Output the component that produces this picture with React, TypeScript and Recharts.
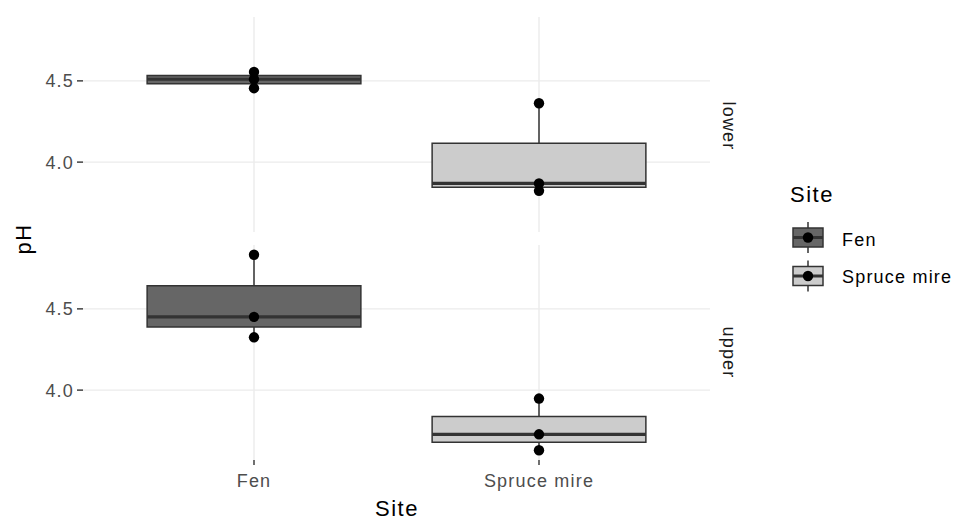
import React from 'react';
import { ComposedChart, XAxis, YAxis, CartesianGrid, ReferenceArea, ReferenceLine, Scatter } from 'recharts';

// pH readings per site, split by depth facet
const sites = ['Fen', 'Spruce mire'];
const depths = ['lower', 'upper'];
const fenLower = [4.555, 4.51, 4.455];
const spruceLower = [4.362, 3.869, 3.823];
const fenUpper = [4.833, 4.451, 4.325];
const spruceUpper = [3.948, 3.728, 3.63];
const yTicks = [4.0, 4.5];
const xTicks = [1, 2];
const siteFills = ['#666666', '#CCCCCC'];

const FONT = '"Liberation Sans", Arial, sans-serif';
const LINE = '#333333';

const quantile = (vals: number[], p: number) => {
  const s = [...vals].sort((a, b) => a - b);
  const h = (s.length - 1) * p;
  const lo = Math.floor(h);
  const hi = Math.ceil(h);
  return s[lo] + (h - lo) * (s[hi] - s[lo]);
};

const boxStats = (vals: number[]) => ({
  min: Math.min(...vals),
  q1: quantile(vals, 0.25),
  med: quantile(vals, 0.5),
  q3: quantile(vals, 0.75),
  max: Math.max(...vals),
});

const allVals = [...fenLower, ...spruceLower, ...fenUpper, ...spruceUpper];
const yMin = Math.min(...allVals);
const yMax = Math.max(...allVals);
const pad = (yMax - yMin) * 0.05;
const yDomain = [yMin - pad, yMax + pad];

const Dot = (props: any) => <circle cx={props.cx} cy={props.cy} r={5.2} fill="#000" />;

const tickStyle = { fill: '#4D4D4D', fontSize: 18, fontFamily: FONT, letterSpacing: 1.2 };

interface PanelProps {
  groups: number[][];
  showX: boolean;
  height: number;
  margin: { top: number; right: number; bottom: number; left: number };
}

const Panel = ({ groups, showX, height, margin }: PanelProps) => {
  const points = groups.flatMap((vals, i) => vals.map((v) => ({ x: i + 1, y: v })));
  return (
    <ComposedChart width={955} height={height} margin={margin}>
      <CartesianGrid stroke="#EBEBEB" strokeWidth={1.4} horizontalValues={yTicks} verticalValues={xTicks} />
      <XAxis
        type="number"
        dataKey="x"
        domain={[0.4, 2.6]}
        ticks={xTicks}
        allowDataOverflow
        hide={!showX}
        height={61}
        axisLine={false}
        tickLine={{ stroke: LINE, strokeWidth: 1.4 }}
        tickSize={5}
        tickMargin={9}
        tick={tickStyle}
        tickFormatter={(v: number) => sites[v - 1]}
      />
      <YAxis
        type="number"
        dataKey="y"
        domain={yDomain}
        ticks={yTicks}
        allowDataOverflow
        width={83}
        axisLine={false}
        tickLine={{ stroke: LINE, strokeWidth: 1.4 }}
        tickSize={6}
        tickMargin={3}
        tick={tickStyle}
        tickFormatter={(v: number) => v.toFixed(1)}
      />
      {groups.map((vals, i) => {
        const st = boxStats(vals);
        const x = i + 1;
        return (
          <React.Fragment key={i}>
            <ReferenceLine segment={[{ x, y: st.q3 }, { x, y: st.max }]} stroke={LINE} strokeWidth={1.5} ifOverflow="visible" />
            <ReferenceLine segment={[{ x, y: st.q1 }, { x, y: st.min }]} stroke={LINE} strokeWidth={1.5} ifOverflow="visible" />
            <ReferenceArea x1={x - 0.375} x2={x + 0.375} y1={st.q1} y2={st.q3} fill={siteFills[i]} fillOpacity={1} stroke={LINE} strokeWidth={1.5} ifOverflow="visible" />
            <ReferenceLine segment={[{ x: x - 0.375, y: st.med }, { x: x + 0.375, y: st.med }]} stroke={LINE} strokeWidth={3.2} ifOverflow="visible" />
          </React.Fragment>
        );
      })}
      <Scatter data={points} isAnimationActive={false} shape={Dot} />
    </ComposedChart>
  );
};

const LegendKey = ({ cy, fill }: { cy: number; fill: string }) => (
  <g>
    <line x1={808} x2={808} y1={cy - 15.5} y2={cy + 15.5} stroke={LINE} strokeWidth={1.5} />
    <rect x={793} y={cy - 9.5} width={30} height={19} fill={fill} stroke={LINE} strokeWidth={1.5} />
    <line x1={793} x2={823} y1={cy} y2={cy} stroke={LINE} strokeWidth={3} />
    <circle cx={808} cy={cy} r={5.2} fill="#000" />
  </g>
);

export default function App() {
  return (
    <div style={{ position: 'absolute', left: 0, top: 0, width: 955, height: 521, background: '#fff' }}>
      <div style={{ position: 'absolute', left: 0, top: 0 }}>
        <Panel groups={[fenLower, spruceLower]} showX={false} height={240} margin={{ top: 17, right: 245, bottom: 8, left: 0 }} />
      </div>
      <div style={{ position: 'absolute', left: 0, top: 240 }}>
        <Panel groups={[fenUpper, spruceUpper]} showX height={281} margin={{ top: 5, right: 245, bottom: 0, left: 0 }} />
      </div>
      <svg width={955} height={521} style={{ position: 'absolute', left: 0, top: 0, pointerEvents: 'none' }} fontFamily={FONT}>
        <text transform="translate(31,239) rotate(-90)" textAnchor="middle" fontSize={22} letterSpacing={1.5} fill="#000">pH</text>
        <text transform="translate(722.5,126) rotate(90)" textAnchor="middle" fontSize={18} letterSpacing={1.2} fill="#1A1A1A">{depths[0]}</text>
        <text transform="translate(722.5,352.5) rotate(90)" textAnchor="middle" fontSize={18} letterSpacing={1.2} fill="#1A1A1A">{depths[1]}</text>
        <text x={397} y={516} textAnchor="middle" fontSize={22} letterSpacing={1.5} fill="#000">Site</text>
        <text x={790} y={201.5} fontSize={22} letterSpacing={1.5} fill="#000">Site</text>
        <LegendKey cy={237.5} fill={siteFills[0]} />
        <LegendKey cy={276} fill={siteFills[1]} />
        <text x={842} y={245.5} fontSize={18} letterSpacing={1.2} fill="#000">{sites[0]}</text>
        <text x={842} y={283} fontSize={18} letterSpacing={1.2} fill="#000">{sites[1]}</text>
      </svg>
    </div>
  );
}
